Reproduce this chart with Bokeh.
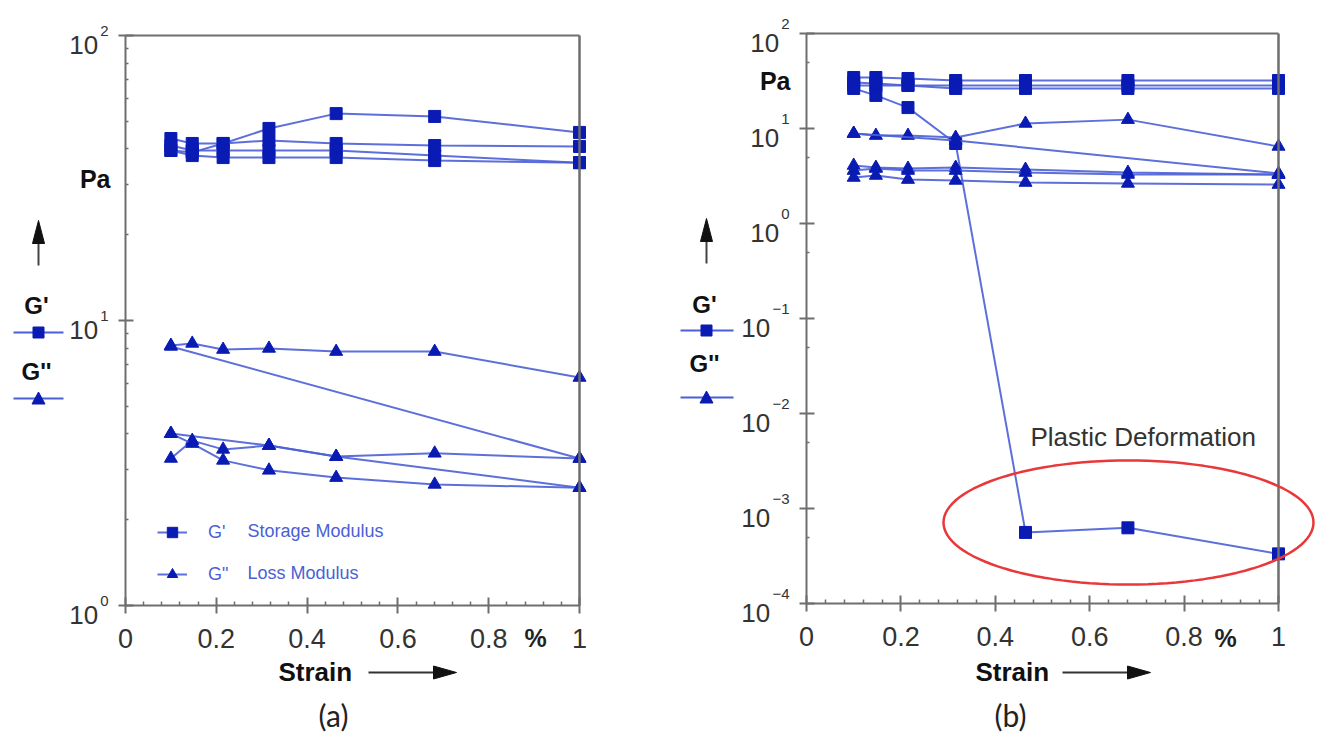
import math
from bokeh.plotting import figure
from bokeh.layouts import row
from bokeh.models import (FixedTicker, Label, Arrow, PolyAnnotation, Legend,
                          LegendItem, Range1d, LinearAxis, LogAxis)
from bokeh.embed import file_html
from bokeh.resources import INLINE

# ---------------- data ----------------
strain = [0.1, 0.147, 0.215, 0.316, 0.464, 0.681, 1.0]
x_ticks = [0, 0.2, 0.4, 0.6, 0.8, 1]
x_tick_labels = ["0", "0.2", "0.4", "0.6", "0.8", "1"]

# panel (a)  storage modulus G' (Pa)
a_gp_1 = [39.5, 38.9, 41.8, 47.2, 53.2, 52.0, 45.7]
a_gp_2 = [43.5, 41.8, 41.8, 42.8, 41.8, 41.1, 40.8]
a_gp_3 = [41.1, 39.5, 39.5, 39.5, 39.5, 37.9, 35.8]
a_gp_4 = [39.5, 37.9, 37.3, 37.3, 37.3, 36.4, 35.8]
# panel (a)  loss modulus G'' (Pa)
a_gpp_1 = [8.17, 8.31, 7.91, 7.98, 7.78, 7.78, 6.31]
a_gpp_2_x = [0.1, 1.0]
a_gpp_2 = [8.11, 3.28]
a_gpp_3_x = [0.1, 0.316, 0.464, 1.0]
a_gpp_3 = [4.01, 3.64, 3.33, 2.59]
a_gpp_4 = [3.28, 3.79, 3.53, 3.64, 3.33, 3.42, 3.28]
a_gpp_5 = [4.01, 3.70, 3.23, 2.98, 2.81, 2.66, 2.59]

# panel (b)  storage modulus G' (Pa)
b_gp_1 = [34.4, 34.4, 33.6, 32.0, 32.0, 32.0, 32.0]
b_gp_2 = [30.5, 29.8, 28.4, 28.4, 28.4, 28.4, 28.4]
b_gp_3 = [28.4, 28.4, 28.4, 26.4, 26.4, 26.4, 26.4]
b_gp_4 = [26.4, 22.3, 16.6, 6.95, 5.6e-4, 6.26e-4, 3.33e-4]
# panel (b)  loss modulus G'' (Pa)
b_gpp_1 = [8.86, 8.43, 8.43, 8.03, 11.3, 12.4, 6.47]
b_gpp_2_x = [0.1, 0.316, 1.0]
b_gpp_2 = [8.86, 7.48, 3.36]
b_gpp_3 = [4.08, 3.88, 3.79, 3.88, 3.70, 3.44, 3.28]
b_gpp_4 = [3.61, 3.79, 3.61, 3.61, 3.44, 3.28, 3.28]
b_gpp_5 = [3.05, 3.20, 2.90, 2.84, 2.70, 2.64, 2.57]

a_decades = [0, 1, 2]
b_decades = [-4, -3, -2, -1, 0, 1, 2]

# ---------------- style ----------------
LINE_C = "#4b5fd6"
MARK_C = "#0a1bb4"
AXIS_C = "#6e6e6e"
TEXT_C = "#333333"
FONT = "Liberation Sans"
CH = 733

# panel geometry: canvas offset/width and the plotting area (page pixels)
PA = dict(OX=0, CW=640, L=125, T=35, W=454, H=570, lg0=0, lg1=2, exp_dy=5)
PB = dict(OX=640, CW=679, L=806, T=33, W=472, H=570, lg0=-4, lg1=2, exp_dy=10)


def SX(P, px):
    return px - P["OX"]


def SY(P, py):
    return CH - py


def lab(p, P, px, py, text, size, color=TEXT_C, bold=False, align="left",
        baseline="middle", font=FONT):
    p.add_layout(Label(x=SX(P, px), y=SY(P, py), x_units="screen",
                       y_units="screen", text=text,
                       text_font=font, text_font_size=f"{size}px",
                       text_color=color,
                       text_font_style="bold" if bold else "normal",
                       text_align=align, text_baseline=baseline))


def poly(p, P, pxs, pys, color, fill=True, width=1.0):
    p.add_layout(PolyAnnotation(xs=[SX(P, v) for v in pxs],
                                ys=[SY(P, v) for v in pys],
                                xs_units="screen", ys_units="screen",
                                line_color=color, line_alpha=1.0,
                                line_width=width,
                                fill_color=color if fill else None,
                                fill_alpha=1.0 if fill else 0.0))


def seg(p, P, x0, y0, x1, y1, color, width=2):
    p.add_layout(Arrow(x_start=SX(P, x0), y_start=SY(P, y0),
                       x_end=SX(P, x1), y_end=SY(P, y1),
                       start_units="screen", end_units="screen", end=None,
                       line_color=color, line_width=width))


def style_axis(ax, tin=8, tout=8, mtin=4):
    ax.axis_line_color = AXIS_C
    ax.axis_line_width = 2
    ax.major_tick_line_color = AXIS_C
    ax.major_tick_line_width = 2
    ax.minor_tick_line_color = AXIS_C
    ax.minor_tick_line_width = 1.5
    ax.major_tick_in = tin
    ax.major_tick_out = tout
    ax.minor_tick_in = mtin
    ax.minor_tick_out = 0


def make_fig(P, decades):
    span = P["lg1"] - P["lg0"]
    xs0 = -(P["L"] - P["OX"]) / P["W"]
    xs1 = 1 + (P["OX"] + P["CW"] - P["L"] - P["W"]) / P["W"]
    ly1 = P["lg1"] + P["T"] / P["H"] * span
    ly0 = P["lg0"] - (CH - P["T"] - P["H"]) / P["H"] * span
    p = figure(width=P["CW"], height=CH,
               x_range=Range1d(xs0, xs1),
               y_range=Range1d(10 ** ly0, 10 ** ly1),
               y_axis_type="log", x_axis_location=None, y_axis_location=None,
               output_backend="svg", toolbar_location=None,
               min_border_left=0, min_border_top=0, min_border_right=0,
               min_border_bottom=0)
    p.xgrid.visible = False
    p.ygrid.visible = False
    p.outline_line_color = None
    p.background_fill_color = "white"
    p.border_fill_color = "white"

    ybot, ytop = 10 ** P["lg0"], 10 ** P["lg1"]

    # bottom x axis at the lower edge of the plotting area
    minor_x = [round(i * 0.04, 2) for i in range(26) if i % 5]
    xa = LinearAxis(fixed_location=ybot, bounds=(0, 1),
                    ticker=FixedTicker(ticks=x_ticks, minor_ticks=minor_x))
    xa.major_label_overrides = dict(zip(x_ticks, x_tick_labels))
    xa.major_label_text_font = FONT
    xa.major_label_text_font_size = "27px"
    xa.major_label_text_color = TEXT_C
    xa.major_label_standoff = 15
    style_axis(xa, 8, 8, 4)
    p.add_layout(xa, "below")

    # left log axis
    if P is PB:
        minor_y = [5 * 10 ** k for k in decades[:-1]]
    else:
        minor_y = [m * 10 ** k for k in decades[:-1] for m in range(2, 10)]
    majors = [10 ** k for k in decades]
    ya = LogAxis(fixed_location=0, bounds=(ybot, ytop),
                 ticker=FixedTicker(ticks=majors, minor_ticks=minor_y))
    ya.major_label_overrides = {t: "" for t in majors}
    ya.major_label_text_font_size = "0px"
    style_axis(ya, 8, 7, 3)
    p.add_layout(ya, "left")

    # top and right border lines of the box
    ta = LinearAxis(fixed_location=ytop, bounds=(0, 1),
                    ticker=FixedTicker(ticks=[]))
    ta.major_label_text_font_size = "0px"
    style_axis(ta, 0, 0, 0)
    p.add_layout(ta, "above")
    ra = LogAxis(fixed_location=1, bounds=(ybot, ytop),
                 ticker=FixedTicker(ticks=[]))
    ra.major_label_text_font_size = "0px"
    style_axis(ra, 0, 0, 0)
    ra.axis_line_width = 2.5
    p.add_layout(ra, "right")

    # y tick labels drawn as "10" + exponent, at each decade tick
    for k in decades:
        ty = P["T"] + P["H"] * (P["lg1"] - k) / span
        e = str(k) if k >= 0 else "\u2212" + str(-k)
        w = 8.3 * len(str(abs(k))) + (9 if k < 0 else 0)
        lab(p, P, P["L"] - 17, ty - P["exp_dy"], e, 15, align="right")
        lab(p, P, P["L"] - 19 - w, ty + 9.5, "10", 26, align="right")
    return p


def series(p, xs, ys, marker):
    lr = p.line(xs, ys, line_color=LINE_C, line_width=2, line_alpha=0.9)
    sr = p.scatter(xs, ys, marker=marker, size=12 if marker == "square" else 13,
                   fill_color=MARK_C, line_color=MARK_C)
    return lr, sr


def side_keys(p, P, xl, xr, xc, y_pa, y_arrow, y_g1, y_k1, y_g2, y_k2, pa_right):
    lab(p, P, pa_right, y_pa, "Pa", 25, color="#111111", bold=True,
        align="right")
    tip, base, tail = y_arrow
    seg(p, P, xc, tail, xc, base, "#444444")
    poly(p, P, [xc - 6, xc + 6, xc], [base, base, tip], "#111111")
    lab(p, P, xc - 2, y_g1, "G'", 24, color="#111111", bold=True,
        align="center")
    seg(p, P, xl, y_k1, xr, y_k1, LINE_C)
    poly(p, P, [xc - 5.5, xc + 5.5, xc + 5.5, xc - 5.5],
         [y_k1 - 5.5, y_k1 - 5.5, y_k1 + 5.5, y_k1 + 5.5], MARK_C)
    lab(p, P, xc - 2, y_g2, "G''", 24, color="#111111", bold=True,
        align="center")
    seg(p, P, xl, y_k2, xr, y_k2, LINE_C)
    poly(p, P, [xc - 6.5, xc + 6.5, xc], [y_k2 + 5.5, y_k2 + 5.5, y_k2 - 6.5],
         MARK_C)


def bottom_texts(p, P, strain_left, arrow_l, arrow_r, pct_x, cap_x, cap):
    lab(p, P, pct_x, 637, "%", 25, color="#222222", bold=True, align="center")
    lab(p, P, strain_left, 671, "Strain", 26, color="#111111", bold=True)
    seg(p, P, arrow_l, 672, arrow_r - 22, 672, "#333333")
    poly(p, P, [arrow_r - 23, arrow_r, arrow_r - 23], [665.5, 672, 678.5],
         "#111111")
    lab(p, P, cap_x, 714, cap, 30, color="#222222", align="center",
        font="Lato")


# ---------------- panel (a) ----------------
pa = make_fig(PA, a_decades)
leg_sq = None
for ys in (a_gp_1, a_gp_2, a_gp_3, a_gp_4):
    r = series(pa, strain, ys, "square")
    leg_sq = leg_sq or r
leg_tr = series(pa, strain, a_gpp_1, "triangle")
series(pa, a_gpp_2_x, a_gpp_2, "triangle")
series(pa, a_gpp_3_x, a_gpp_3, "triangle")
series(pa, strain, a_gpp_4, "triangle")
series(pa, strain, a_gpp_5, "triangle")

legend = Legend(items=[LegendItem(label="G'", renderers=list(leg_sq)),
                       LegendItem(label='G"', renderers=list(leg_tr))],
                location=(157, CH - 587), padding=0, margin=0,
                border_line_color=None, background_fill_alpha=0,
                glyph_width=30, glyph_height=26, spacing=16,
                label_standoff=21, label_text_font=FONT,
                label_text_font_size="18px", label_text_color=LINE_C)
pa.add_layout(legend)
lab(pa, PA, 247, 530, "Storage Modulus", 18, color=LINE_C)
lab(pa, PA, 247, 572, "Loss Modulus", 18, color=LINE_C)

side_keys(pa, PA, 13, 63, 38, 178, (220, 243, 265), 305, 332, 371, 398, 110)
bottom_texts(pa, PA, 278, 368, 456, 535, 333, "(a)")

# ---------------- panel (b) ----------------
pb = make_fig(PB, b_decades)
for ys in (b_gp_1, b_gp_2, b_gp_3, b_gp_4):
    series(pb, strain, ys, "square")
series(pb, strain, b_gpp_1, "triangle")
series(pb, b_gpp_2_x, b_gpp_2, "triangle")
series(pb, strain, b_gpp_3, "triangle")
series(pb, strain, b_gpp_4, "triangle")
series(pb, strain, b_gpp_5, "triangle")

side_keys(pb, PB, 680, 733, 706, 80, (218, 241, 263), 304, 330, 363, 397, 790)
bottom_texts(pb, PB, 975, 1062, 1150, 1225, 1010, "(b)")

# plastic deformation annotation
lab(pb, PB, 1030, 436, "Plastic Deformation", 26, color=TEXT_C)
cx, cy, ra_, rb_ = 1128, 522, 185, 62
ts = [2 * math.pi * i / 120 for i in range(121)]
poly(pb, PB, [cx + ra_ * math.cos(t) for t in ts],
     [cy + rb_ * math.sin(t) for t in ts], "#e8383a", fill=False, width=2.5)

layout = row(pa, pb)
open("out.html", "w").write(file_html(layout, INLINE))
